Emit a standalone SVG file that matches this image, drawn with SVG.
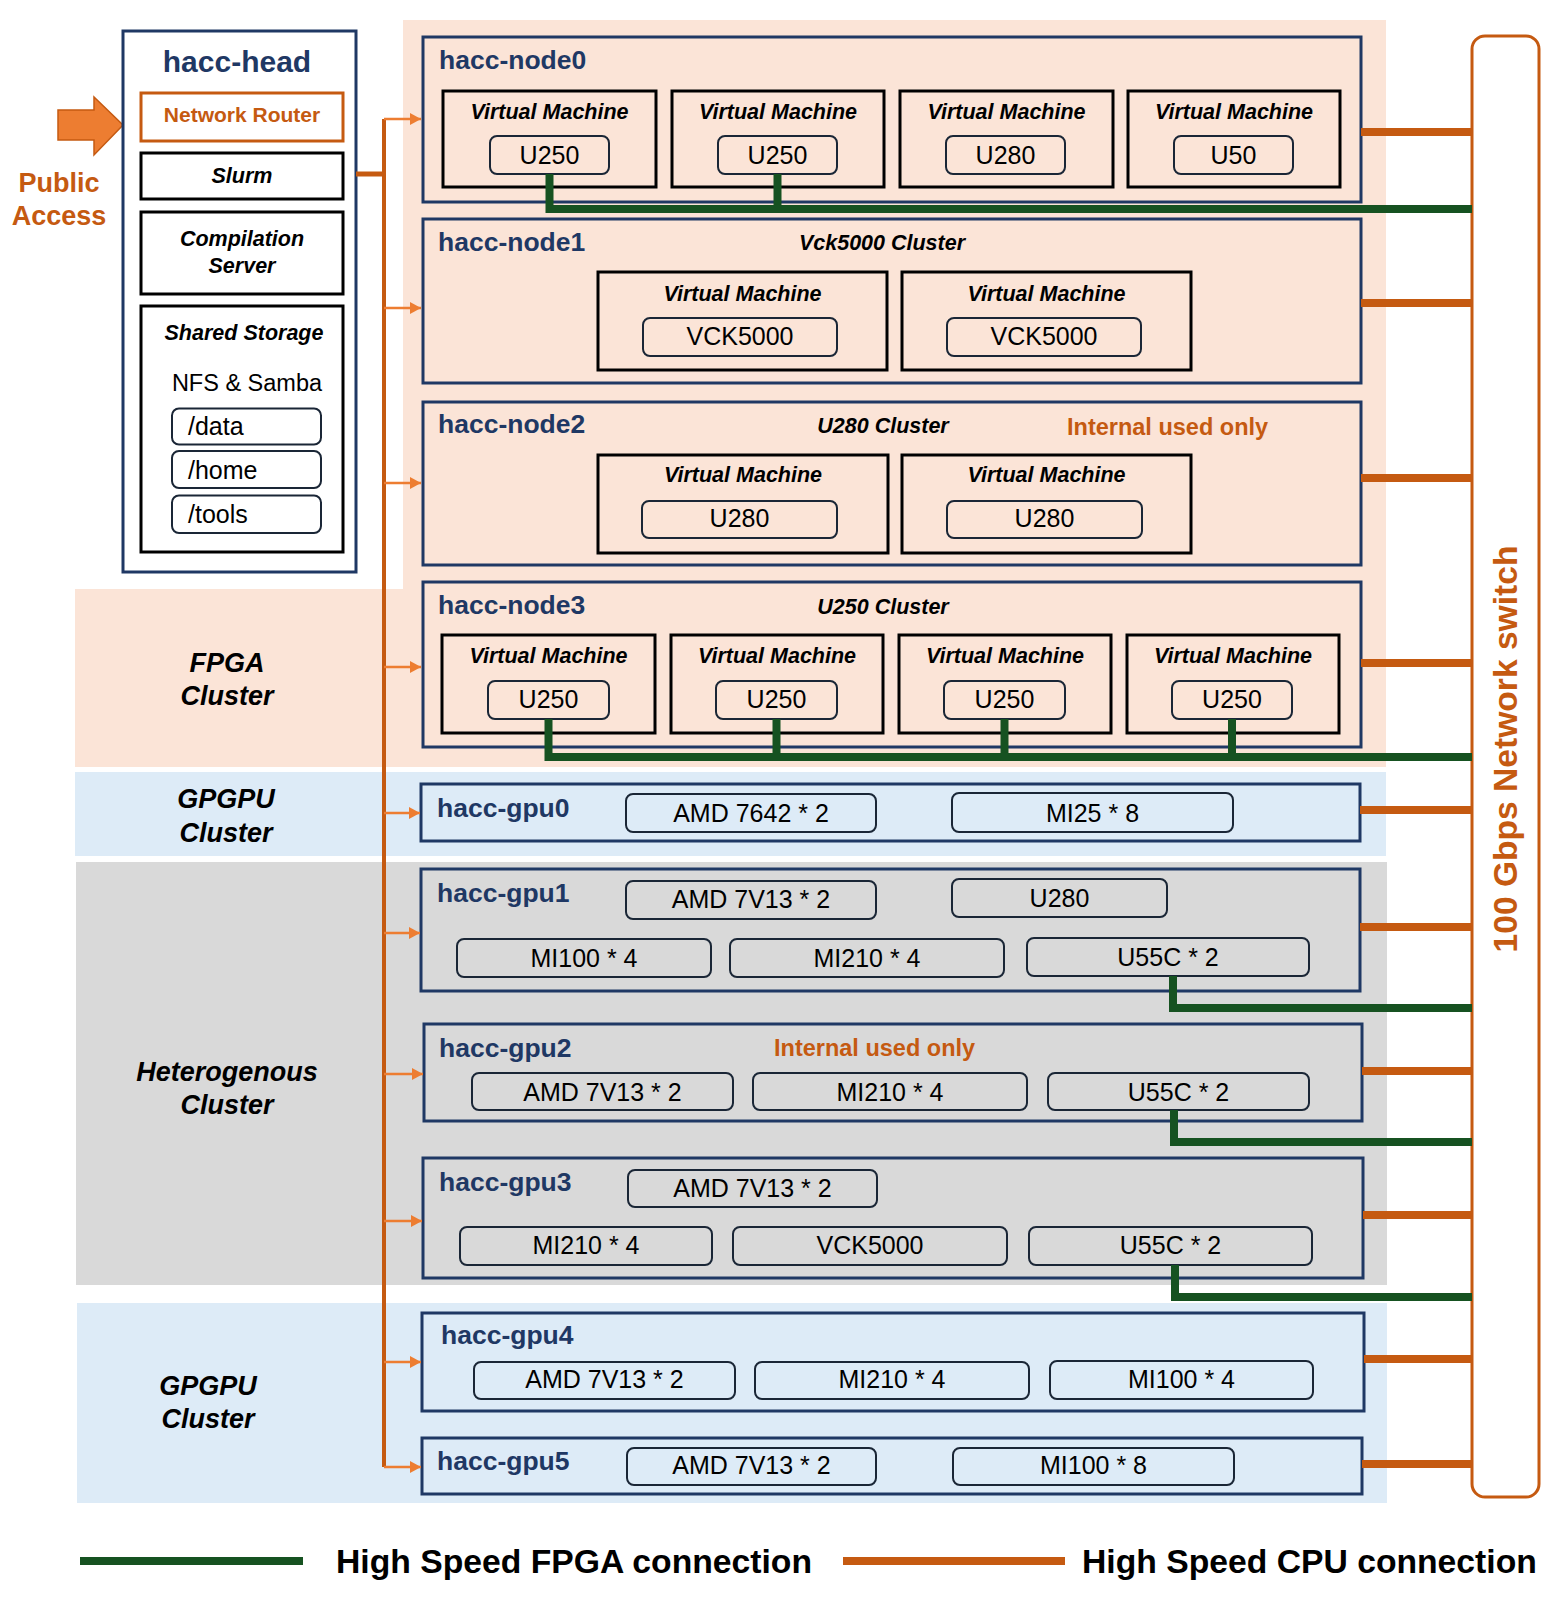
<svg xmlns="http://www.w3.org/2000/svg" width="1561" height="1602" viewBox="0 0 1561 1602">
<defs>
<marker id="ah" markerUnits="userSpaceOnUse" markerWidth="12" markerHeight="12" refX="11" refY="6" orient="auto">
<path d="M0,0 L11,6 L0,12 Z" fill="#ED7D31"/>
</marker>
<style>
text{font-family:"Liberation Sans",Arial,sans-serif}
.title{font-size:26.5px;font-weight:bold;fill:#1F3864}
.node{fill:none;stroke:#1F3864;stroke-width:3}
.vm{fill:none;stroke:#000;stroke-width:3}
.chip{fill:none;stroke:#1a2636;stroke-width:2}
.ct{font-size:25px;fill:#000;text-anchor:middle}
.vt{font-size:21.5px;font-weight:bold;font-style:italic;fill:#000;text-anchor:middle}
.cl{font-size:27px;font-weight:bold;font-style:italic;fill:#000;text-anchor:middle}
.iu{font-size:23.5px;font-weight:bold;fill:#C55A11}
.arr{stroke:#ED7D31;stroke-width:2.5;fill:none}
.cpu{stroke:#C55A11;stroke-width:8;fill:none}
.fpga{stroke:#165221;stroke-width:8;fill:none}
.lg{font-size:33.7px;font-weight:bold;fill:#000}
</style>
</defs>

<g id="bands">
<path id="band-fpga" d="M403,20 H1386 V767 H75 V589 H403 Z" fill="#FBE4D7"/>
<rect id="band-gpgpu1" x="75" y="772" width="1311" height="84" fill="#DDEBF7"/>
<rect id="band-hetero" x="76" y="862" width="1311" height="423" fill="#D9D9D9"/>
<rect id="band-gpgpu2" x="77" y="1303" width="1310" height="200" fill="#DDEBF7"/>
<text class="cl" x="227" y="672">FPGA</text>
<text class="cl" x="227" y="705">Cluster</text>
<text class="cl" x="226" y="808">GPGPU</text>
<text class="cl" x="226" y="842">Cluster</text>
<text class="cl" x="227" y="1081">Heterogenous</text>
<text class="cl" x="227" y="1114">Cluster</text>
<text class="cl" x="208" y="1395">GPGPU</text>
<text class="cl" x="208" y="1428">Cluster</text>
</g>

<g id="public-access">
<path d="M58,110 L94,110 L94,97 L123,125 L94,155 L94,140 L58,140 Z" fill="#ED7D31" stroke="#C55A11" stroke-width="1.5"/>
<text x="59" y="192" font-size="27" font-weight="bold" fill="#C55A11" text-anchor="middle">Public</text>
<text x="59" y="225" font-size="27" font-weight="bold" fill="#C55A11" text-anchor="middle">Access</text>
</g>

<g id="hacc-head">
<rect x="123" y="31" width="233" height="541" fill="#fff" stroke="#1F3864" stroke-width="3"/>
<text x="237" y="72" font-size="30" font-weight="bold" fill="#1F3864" text-anchor="middle">hacc-head</text>
<rect x="141" y="93" width="202" height="48" fill="#fff" stroke="#C55A11" stroke-width="3"/>
<text x="242" y="122" font-size="21" font-weight="bold" fill="#C55A11" text-anchor="middle">Network Router</text>
<rect x="141" y="153" width="202" height="46" fill="#fff" stroke="#000" stroke-width="3"/>
<text class="vt" x="242" y="183">Slurm</text>
<rect x="141" y="212" width="202" height="82" fill="#fff" stroke="#000" stroke-width="3"/>
<text class="vt" x="242" y="246">Compilation</text>
<text class="vt" x="242" y="273">Server</text>
<rect x="141" y="306" width="202" height="246" fill="#fff" stroke="#000" stroke-width="3"/>
<text class="vt" x="244" y="340">Shared Storage</text>
<text x="247" y="391" font-size="23.5" fill="#000" text-anchor="middle">NFS &amp; Samba</text>
<rect class="chip" x="172" y="408.5" width="149" height="36" rx="7"/>
<text x="188" y="435" font-size="25" fill="#000">/data</text>
<rect class="chip" x="172" y="451" width="149" height="37" rx="7"/>
<text x="188" y="478.5" font-size="25" fill="#000">/home</text>
<rect class="chip" x="172" y="495.5" width="149" height="37.5" rx="7"/>
<text x="188" y="523" font-size="25" fill="#000">/tools</text>
</g>

<g id="hacc-node0">
<rect class="node" x="423" y="37" width="938" height="165"/>
<text class="title" x="439" y="69">hacc-node0</text>
<rect class="vm" x="443" y="91" width="213" height="96"/>
<text class="vt" x="549.5" y="118.5">Virtual Machine</text>
<rect class="chip" x="490" y="136" width="119" height="38" rx="7"/>
<text class="ct" x="549.5" y="164">U250</text>
<rect class="vm" x="672" y="91" width="212" height="96"/>
<text class="vt" x="778" y="118.5">Virtual Machine</text>
<rect class="chip" x="718" y="136" width="119" height="38" rx="7"/>
<text class="ct" x="777.5" y="164">U250</text>
<rect class="vm" x="900" y="91" width="213" height="96"/>
<text class="vt" x="1006.5" y="118.5">Virtual Machine</text>
<rect class="chip" x="946" y="136" width="119" height="38" rx="7"/>
<text class="ct" x="1005.5" y="164">U280</text>
<rect class="vm" x="1128" y="91" width="212" height="96"/>
<text class="vt" x="1234" y="118.5">Virtual Machine</text>
<rect class="chip" x="1174" y="136" width="119" height="38" rx="7"/>
<text class="ct" x="1233.5" y="164">U50</text>
</g>

<g id="hacc-node1">
<rect class="node" x="423" y="219" width="938" height="164"/>
<text class="title" x="438" y="251">hacc-node1</text>
<text class="vt" x="882" y="250">Vck5000 Cluster</text>
<rect class="vm" x="598" y="272" width="289" height="98"/>
<text class="vt" x="742.5" y="301">Virtual Machine</text>
<rect class="chip" x="643" y="318" width="194" height="38" rx="7"/>
<text class="ct" x="740" y="345">VCK5000</text>
<rect class="vm" x="902" y="272" width="289" height="98"/>
<text class="vt" x="1046.5" y="301">Virtual Machine</text>
<rect class="chip" x="947" y="318" width="194" height="38" rx="7"/>
<text class="ct" x="1044" y="345">VCK5000</text>
</g>

<g id="hacc-node2">
<rect class="node" x="423" y="402" width="938" height="163"/>
<text class="title" x="438" y="433">hacc-node2</text>
<text class="vt" x="883" y="433">U280 Cluster</text>
<text class="iu" x="1067" y="435">Internal used only</text>
<rect class="vm" x="598" y="455" width="290" height="98"/>
<text class="vt" x="743" y="482">Virtual Machine</text>
<rect class="chip" x="642" y="501" width="195" height="37" rx="7"/>
<text class="ct" x="739.5" y="527">U280</text>
<rect class="vm" x="902" y="455" width="289" height="98"/>
<text class="vt" x="1046.5" y="482">Virtual Machine</text>
<rect class="chip" x="947" y="501" width="195" height="37" rx="7"/>
<text class="ct" x="1044.5" y="527">U280</text>
</g>

<g id="hacc-node3">
<rect class="node" x="423" y="582" width="938" height="165"/>
<text class="title" x="438" y="614">hacc-node3</text>
<text class="vt" x="883" y="614">U250 Cluster</text>
<rect class="vm" x="442" y="635" width="213" height="98"/>
<text class="vt" x="548.5" y="663">Virtual Machine</text>
<rect class="chip" x="488" y="681" width="121" height="38" rx="7"/>
<text class="ct" x="548.5" y="708">U250</text>
<rect class="vm" x="671" y="635" width="212" height="98"/>
<text class="vt" x="777" y="663">Virtual Machine</text>
<rect class="chip" x="716" y="681" width="121" height="38" rx="7"/>
<text class="ct" x="776.5" y="708">U250</text>
<rect class="vm" x="899" y="635" width="212" height="98"/>
<text class="vt" x="1005" y="663">Virtual Machine</text>
<rect class="chip" x="944" y="681" width="121" height="38" rx="7"/>
<text class="ct" x="1004.5" y="708">U250</text>
<rect class="vm" x="1127" y="635" width="212" height="98"/>
<text class="vt" x="1233" y="663">Virtual Machine</text>
<rect class="chip" x="1172" y="681" width="120" height="38" rx="7"/>
<text class="ct" x="1232" y="708">U250</text>
</g>

<g id="hacc-gpu0">
<rect class="node" x="421" y="784" width="939" height="57"/>
<text class="title" x="437" y="817">hacc-gpu0</text>
<rect class="chip" x="626" y="794" width="250" height="38" rx="7"/>
<text class="ct" x="751" y="822">AMD 7642 * 2</text>
<rect class="chip" x="952" y="793" width="281" height="39" rx="7"/>
<text class="ct" x="1092.5" y="822">MI25 * 8</text>
</g>

<g id="hacc-gpu1">
<rect class="node" x="421" y="869" width="939" height="122"/>
<text class="title" x="437" y="902">hacc-gpu1</text>
<rect class="chip" x="626" y="881" width="250" height="38" rx="7"/>
<text class="ct" x="751" y="908">AMD 7V13 * 2</text>
<rect class="chip" x="952" y="879" width="215" height="38" rx="7"/>
<text class="ct" x="1059.5" y="907">U280</text>
<rect class="chip" x="457" y="939" width="254" height="38" rx="7"/>
<text class="ct" x="584" y="967">MI100 * 4</text>
<rect class="chip" x="730" y="939" width="274" height="38" rx="7"/>
<text class="ct" x="867" y="967">MI210 * 4</text>
<rect class="chip" x="1027" y="938" width="282" height="38" rx="7"/>
<text class="ct" x="1168" y="966">U55C * 2</text>
</g>

<g id="hacc-gpu2">
<rect class="node" x="424" y="1024" width="938" height="97"/>
<text class="title" x="439" y="1057">hacc-gpu2</text>
<text class="iu" x="774" y="1056">Internal used only</text>
<rect class="chip" x="472" y="1073" width="261" height="37" rx="7"/>
<text class="ct" x="602.5" y="1101">AMD 7V13 * 2</text>
<rect class="chip" x="753" y="1073" width="274" height="37" rx="7"/>
<text class="ct" x="890" y="1101">MI210 * 4</text>
<rect class="chip" x="1048" y="1073" width="261" height="37" rx="7"/>
<text class="ct" x="1178.5" y="1101">U55C * 2</text>
</g>

<g id="hacc-gpu3">
<rect class="node" x="423" y="1158" width="940" height="120"/>
<text class="title" x="439" y="1191">hacc-gpu3</text>
<rect class="chip" x="628" y="1170" width="249" height="37" rx="7"/>
<text class="ct" x="752.5" y="1197">AMD 7V13 * 2</text>
<rect class="chip" x="460" y="1227" width="252" height="38" rx="7"/>
<text class="ct" x="586" y="1254">MI210 * 4</text>
<rect class="chip" x="733" y="1227" width="274" height="38" rx="7"/>
<text class="ct" x="870" y="1254">VCK5000</text>
<rect class="chip" x="1029" y="1227" width="283" height="38" rx="7"/>
<text class="ct" x="1170.5" y="1254">U55C * 2</text>
</g>

<g id="hacc-gpu4">
<rect class="node" x="422" y="1313" width="942" height="98"/>
<text class="title" x="441" y="1344">hacc-gpu4</text>
<rect class="chip" x="474" y="1362" width="261" height="37" rx="7"/>
<text class="ct" x="604.5" y="1388">AMD 7V13 * 2</text>
<rect class="chip" x="755" y="1362" width="274" height="37" rx="7"/>
<text class="ct" x="892" y="1388">MI210 * 4</text>
<rect class="chip" x="1050" y="1361" width="263" height="38" rx="7"/>
<text class="ct" x="1181.5" y="1388">MI100 * 4</text>
</g>

<g id="hacc-gpu5">
<rect class="node" x="422" y="1438" width="940" height="56"/>
<text class="title" x="437" y="1470">hacc-gpu5</text>
<rect class="chip" x="627" y="1448" width="249" height="37" rx="7"/>
<text class="ct" x="751.5" y="1474">AMD 7V13 * 2</text>
<rect class="chip" x="953" y="1448" width="281" height="37" rx="7"/>
<text class="ct" x="1093.5" y="1474">MI100 * 8</text>
</g>

<g id="network-switch">
<rect x="1472" y="36" width="67" height="1461" rx="13" fill="#fff" stroke="#C55A11" stroke-width="3"/>
<text transform="translate(1517,749) rotate(-90)" font-size="33.6" font-weight="bold" fill="#C55A11" text-anchor="middle">100 Gbps Network switch</text>
</g>

<g id="connectors">
<path d="M356,174 H384" stroke="#C55A11" stroke-width="5"/>
<path d="M384,119 V1467" stroke="#C55A11" stroke-width="4"/>
<path class="arr" d="M384,119 H421" marker-end="url(#ah)"/>
<path class="arr" d="M384,308 H421" marker-end="url(#ah)"/>
<path class="arr" d="M384,483 H421" marker-end="url(#ah)"/>
<path class="arr" d="M384,667 H421" marker-end="url(#ah)"/>
<path class="arr" d="M384,813 H420" marker-end="url(#ah)"/>
<path class="arr" d="M384,933 H420" marker-end="url(#ah)"/>
<path class="arr" d="M384,1074 H423" marker-end="url(#ah)"/>
<path class="arr" d="M384,1221 H422" marker-end="url(#ah)"/>
<path class="arr" d="M384,1362 H421" marker-end="url(#ah)"/>
<path class="arr" d="M384,1467 H421" marker-end="url(#ah)"/>

<path class="cpu" d="M1361,132 H1472"/>
<path class="cpu" d="M1361,303 H1472"/>
<path class="cpu" d="M1361,478 H1472"/>
<path class="cpu" d="M1361,663 H1472"/>
<path class="cpu" d="M1360,810 H1472"/>
<path class="cpu" d="M1360,927 H1472"/>
<path class="cpu" d="M1362,1071 H1472"/>
<path class="cpu" d="M1363,1215 H1472"/>
<path class="cpu" d="M1364,1359 H1472"/>
<path class="cpu" d="M1362,1464 H1472"/>

<path class="fpga" d="M549.5,174 V209 H1472"/>
<path class="fpga" d="M777.5,174 V209"/>
<path class="fpga" d="M548.5,719 V757 H1472"/>
<path class="fpga" d="M776.5,719 V757"/>
<path class="fpga" d="M1004.5,719 V757"/>
<path class="fpga" d="M1232,719 V757"/>
<path class="fpga" d="M1173,976 V1008 H1472"/>
<path class="fpga" d="M1174,1110 V1142 H1472"/>
<path class="fpga" d="M1175,1265 V1297 H1472"/>
</g>

<g id="legend">
<path class="fpga" d="M80,1561 H303"/>
<text class="lg" x="336" y="1573">High Speed FPGA connection</text>
<path class="cpu" d="M843,1561 H1065"/>
<text class="lg" x="1082" y="1573">High Speed CPU connection</text>
</g>
</svg>
